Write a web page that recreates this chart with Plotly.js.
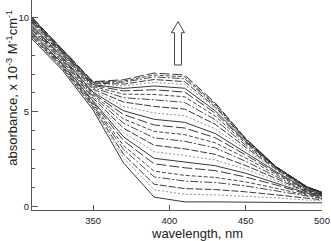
<!DOCTYPE html>
<html>
<head>
<meta charset="utf-8">
<script src="https://cdn.plot.ly/plotly-3.0.1.min.js"></script>
<style>html,body{margin:0;padding:0;background:#fff;}#chart{width:331px;height:241px;}</style>
</head>
<body>
<div id="chart"></div>
<script>
// wavelength grid, nm
const wavelength = [310, 330, 350, 370, 390, 410, 430, 450, 470, 490, 500];

// absorbance spectra (x 10^-3 M^-1 cm^-1), from first (bottom at 400 nm) to last (top)
const s01 = [8.85, 7.20, 5.10, 2.30, 0.50, 0.25, 0.25, 0.25, 0.22, 0.20, 0.20];
const s02 = [8.92, 7.27, 5.19, 2.56, 0.89, 0.65, 0.62, 0.55, 0.46, 0.35, 0.31];
const s03 = [8.97, 7.31, 5.26, 2.76, 1.18, 0.95, 0.90, 0.78, 0.62, 0.43, 0.36];
const s04 = [9.04, 7.38, 5.35, 3.02, 1.57, 1.35, 1.27, 1.09, 0.83, 0.54, 0.43];
const s05 = [9.09, 7.43, 5.41, 3.22, 1.87, 1.65, 1.54, 1.30, 0.97, 0.60, 0.46];
const s06 = [9.16, 7.50, 5.50, 3.48, 2.26, 2.05, 1.90, 1.56, 1.14, 0.66, 0.51];
const s07 = [9.21, 7.54, 5.57, 3.68, 2.55, 2.35, 2.16, 1.76, 1.25, 0.71, 0.54];
const s08 = [9.27, 7.60, 5.65, 3.91, 2.90, 2.70, 2.46, 1.97, 1.37, 0.74, 0.56];
const s09 = [9.33, 7.66, 5.73, 4.14, 3.24, 3.05, 2.76, 2.17, 1.48, 0.77, 0.59];
const s10 = [9.40, 7.73, 5.82, 4.40, 3.63, 3.45, 3.10, 2.39, 1.59, 0.79, 0.60];
const s11 = [9.46, 7.78, 5.90, 4.63, 3.97, 3.80, 3.37, 2.57, 1.69, 0.84, 0.63];
const s12 = [9.52, 7.84, 5.97, 4.86, 4.31, 4.15, 3.64, 2.73, 1.77, 0.87, 0.65];
const s13 = [9.57, 7.89, 6.04, 5.06, 4.61, 4.45, 3.86, 2.86, 1.84, 0.91, 0.67];
const s14 = [9.63, 7.95, 6.12, 5.29, 4.95, 4.80, 4.11, 3.00, 1.91, 0.94, 0.69];
const s15 = [9.69, 8.00, 6.20, 5.52, 5.29, 5.15, 4.35, 3.13, 1.97, 0.97, 0.71];
const s16 = [9.75, 8.06, 6.28, 5.75, 5.64, 5.50, 4.59, 3.24, 2.01, 0.99, 0.72];
const s17 = [9.80, 8.11, 6.34, 5.94, 5.92, 5.80, 4.78, 3.34, 2.05, 1.01, 0.73];
const s18 = [9.85, 8.15, 6.40, 6.11, 6.17, 6.05, 4.94, 3.41, 2.07, 1.02, 0.74];
const s19 = [9.88, 8.19, 6.44, 6.24, 6.37, 6.25, 5.06, 3.45, 2.08, 1.03, 0.74];
const s20 = [9.91, 8.22, 6.49, 6.37, 6.56, 6.45, 5.19, 3.51, 2.09, 1.04, 0.75];
const s21 = [9.94, 8.24, 6.52, 6.47, 6.71, 6.60, 5.27, 3.53, 2.09, 1.04, 0.75];
const s22 = [9.97, 8.27, 6.56, 6.57, 6.85, 6.75, 5.36, 3.57, 2.10, 1.05, 0.75];
const s23 = [9.98, 8.28, 6.58, 6.63, 6.95, 6.85, 5.42, 3.58, 2.10, 1.05, 0.75];
const s24 = [10.0, 8.30, 6.60, 6.70, 7.05, 6.95, 5.48, 3.60, 2.10, 1.05, 0.75];

const xTickVals = [350, 400, 450, 500];
const yTickVals = [0, 5, 10];

const spectra = [s01, s02, s03, s04, s05, s06, s07, s08, s09, s10, s11, s12,
                 s13, s14, s15, s16, s17, s18, s19, s20, s21, s22, s23, s24];

const styles = [
  {dash: 'solid', color: '#222'},
  {dash: '2px,2px', color: '#888'},
  {dash: '7px,2px', color: '#222'},
  {dash: '8px,2px,2px,2px', color: '#333'},
  {dash: '4px,2px', color: '#333'},
  {dash: '10px,3px', color: '#222'}
];

const traces = spectra.map((s, i) => ({
  x: wavelength, y: s, type: 'scatter', mode: 'lines',
  line: {width: 0.9, color: styles[i % styles.length].color, dash: styles[i % styles.length].dash},
  hoverinfo: 'none', showlegend: false
}));

const font = {family: 'Liberation Sans, Arial, sans-serif', color: '#222'};

const layout = {
  width: 331, height: 241,
  margin: {l: 32, r: 9, t: 0, b: 31, pad: 0},
  paper_bgcolor: '#fff', plot_bgcolor: '#fff',
  showlegend: false,
  font: font,
  xaxis: {
    range: [310, 500], showgrid: false, zeroline: false,
    showline: true, linecolor: '#555', linewidth: 1,
    ticks: 'inside', ticklen: 5, tickcolor: '#555', tickwidth: 1,
    tickvals: xTickVals, ticktext: xTickVals.map(String),
    tickfont: {family: font.family, size: 9.5, color: '#222'},
    ticklabelstandoff: 2,
    fixedrange: true
  },
  yaxis: {
    range: [-0.18, 10.91], showgrid: false, zeroline: false,
    showline: true, linecolor: '#555', linewidth: 1,
    ticks: 'inside', ticklen: 6, tickcolor: '#555', tickwidth: 1,
    tickvals: yTickVals, ticktext: yTickVals.map(String),
    tickfont: {family: font.family, size: 9.5, color: '#222'},
    minor: {dtick: 1, tick0: 0, ticks: 'inside', ticklen: 3, tickcolor: '#555', tickwidth: 1, showgrid: false},
    fixedrange: true
  },
  annotations: [
    {text: 'wavelength, nm', xref: 'paper', yref: 'paper', x: 0.568, y: -0.11,
     xanchor: 'center', yanchor: 'middle', showarrow: false,
     font: {family: font.family, size: 13, color: '#222'}},
    {text: 'absorbance, x 10<sup>-3</sup> M<sup>-1</sup>cm<sup>-1</sup>', xref: 'paper', yref: 'paper',
     x: -0.072, y: 0.583, xanchor: 'center', yanchor: 'middle', textangle: -90, showarrow: false,
     font: {family: font.family, size: 13, color: '#222'}}
  ],
  shapes: [
    {type: 'path', xref: 'x', yref: 'y',
     path: 'M 405.66 9.764 L 409.9 9.184 L 407.95 9.184 L 407.95 7.479 L 403.36 7.479 L 403.36 9.184 L 401.4 9.184 Z',
     line: {color: '#444', width: 1}, fillcolor: '#fff'}
  ]
};

Plotly.newPlot('chart', traces, layout, {staticPlot: true, displayModeBar: false});
</script>
</body>
</html>
